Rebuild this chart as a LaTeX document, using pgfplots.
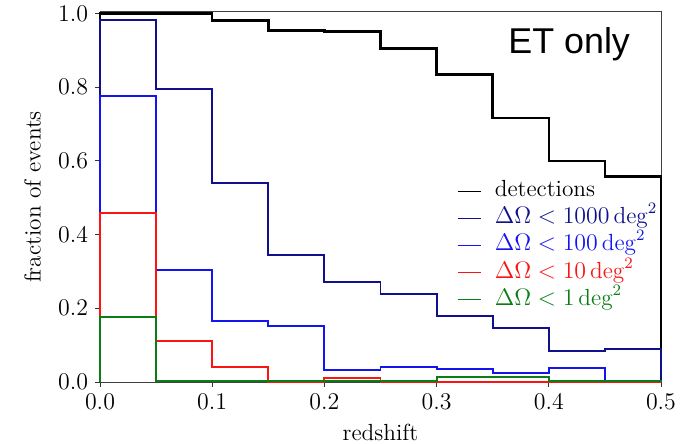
\documentclass[border=0pt]{standalone}
\usepackage{pgfplots}
\pgfplotsset{compat=1.18}
\usepackage{pgfplotstable}
\usepackage{fontspec}
\newfontfamily\arialfont{Liberation Sans}
\definecolor{navyc}{RGB}{16,16,140}
\definecolor{bluec}{RGB}{20,20,240}
\definecolor{redc}{RGB}{250,20,20}
\definecolor{greenc}{RGB}{10,125,20}
\pgfplotstableread{
z det d1000 d100 d10 d1
0.00 0.000 0.000 0.000 0.000 0.000
0.00 1.000 0.981 0.777 0.458 0.177
0.05 1.000 0.796 0.303 0.110 0.003
0.10 0.981 0.540 0.166 0.042 0.003
0.15 0.954 0.345 0.151 0.000 0.003
0.20 0.951 0.272 0.032 0.012 0.003
0.25 0.905 0.240 0.040 0.000 0.003
0.30 0.834 0.179 0.035 0.000 0.014
0.35 0.716 0.146 0.025 0.000 0.014
0.40 0.600 0.084 0.039 0.000 0.003
0.45 0.558 0.089 0.000 0.000 0.003
0.50 0.558 0.089 0.000 0.000 0.003
0.50 0.000 0.000 0.000 0.000 0.000
}\hist
\begin{document}
\begin{tikzpicture}
\useasboundingbox (-50bp,-31bp) rectangle (293bp,191bp);
\begin{axis}[
  at={(0,0)}, anchor=south west,
  scale only axis, width=280.5bp, height=185bp,
  xmin=0, xmax=0.5, ymin=0, ymax=1.004,
  xtick={0,0.1,0.2,0.3,0.4,0.5},
  ytick={0,0.2,0.4,0.6,0.8,1.0},
  tick label style={font=\fontsize{12.5}{14}\selectfont},
  label style={font=\fontsize{11.7}{14}\selectfont},
  xticklabel style={/pgf/number format/.cd, fixed, fixed zerofill, precision=1},
  yticklabel style={/pgf/number format/.cd, fixed, fixed zerofill, precision=1},
  tick align=outside, xtick pos=left, ytick pos=left,
  major tick length=2.5pt,
  axis line style={black!75, line width=0.5pt},
  tick style={black!80, line width=0.5pt},
  xlabel={redshift}, ylabel={fraction of events},
  xlabel style={at={(axis description cs:0.5,-0.135)}, anchor=center},
  ylabel style={at={(axis description cs:-0.1203,0.5)}, anchor=center},
  clip=false,
  legend cell align=left,
  legend style={draw=none, fill=none, at={(axis description cs:0.636,0.554)}, anchor=north west,
     inner sep=0pt, row sep=0pt, column sep=4.5pt, font=\fontsize{11.7}{14}\selectfont,
     nodes={inner xsep=2pt, inner ysep=0.75pt, text height=8.8pt, text depth=3.35pt}},
]
\addplot[const plot mark left, black, line width=1.3pt,
  legend image code/.code={\draw[black, line width=0.45pt] (0cm,0cm) -- (0.42cm,0cm);}] table[x=z, y=det] {\hist};
\addplot[const plot mark left, navyc, line width=1pt,
  legend image code/.code={\draw[navyc, line width=0.45pt] (0cm,0cm) -- (0.42cm,0cm);}] table[x=z, y=d1000] {\hist};
\addplot[const plot mark left, bluec, line width=1pt,
  legend image code/.code={\draw[bluec, line width=0.45pt] (0cm,0cm) -- (0.42cm,0cm);}] table[x=z, y=d100] {\hist};
\addplot[const plot mark left, redc, line width=1pt,
  legend image code/.code={\draw[redc, line width=0.45pt] (0cm,0cm) -- (0.42cm,0cm);}] table[x=z, y=d10] {\hist};
\addplot[const plot mark left, greenc, line width=1pt,
  legend image code/.code={\draw[greenc, line width=0.45pt] (0cm,0cm) -- (0.42cm,0cm);}] table[x=z, y=d1] {\hist};
\legend{detections,
  {\color{navyc}$\Delta\Omega<1000\,\mathrm{deg}^2$},
  {\color{bluec}$\Delta\Omega<100\,\mathrm{deg}^2$},
  {\color{redc}$\Delta\Omega<10\,\mathrm{deg}^2$},
  {\color{greenc}$\Delta\Omega<1\,\mathrm{deg}^2$}}
\node[anchor=base west, inner sep=0pt, font=\arialfont\fontsize{18}{20}\selectfont] at (axis cs:0.3636,0.891) {ET only};
\end{axis}
\end{tikzpicture}
\end{document}
